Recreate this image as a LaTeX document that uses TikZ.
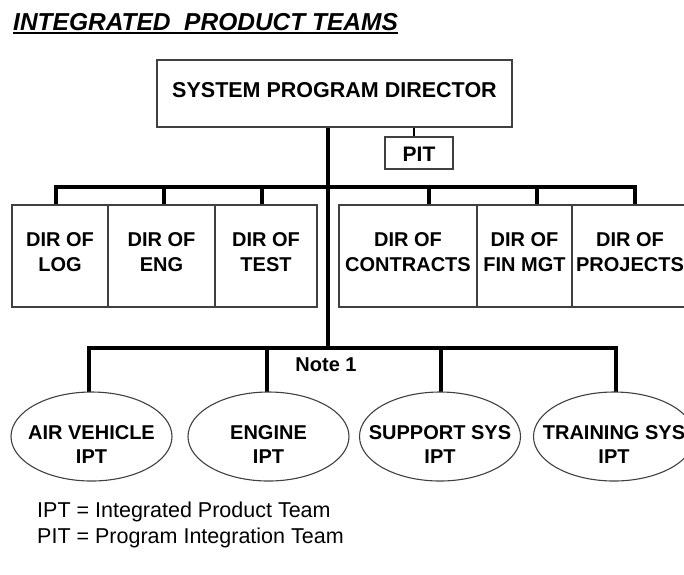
\documentclass[tikz,border=0pt]{standalone}
\usepackage{fontspec}
\setmainfont{Liberation Sans}
\usetikzlibrary{shapes.geometric}
\pgfdeclarelayer{edgelayer}
\pgfdeclarelayer{nodelayer}
\pgfsetlayers{edgelayer,nodelayer,main}
\tikzstyle{none} = [inner sep=0pt]
\tikzstyle{box} = [draw=black!75, line width=1.1pt, rectangle, inner sep=0pt, align=center, text height=40pt, text depth=10pt, font=\bfseries\fontsize{20}{25}\selectfont]
\tikzstyle{team} = [draw=black!75, line width=1.1pt, ellipse, inner xsep=-30pt, inner ysep=-25pt, minimum width=161pt, minimum height=89pt, align=center, text height=58pt, text depth=5pt, font=\bfseries\fontsize{20}{24}\selectfont]
\tikzstyle{bus} = [line width=3.4pt]

\begin{document}
\begin{tikzpicture}[x=1pt, y=-1pt]
	\useasboundingbox (0, 0) rectangle (684, 574);
	\clip (0, 0) rectangle (684, 574);
	\begin{pgfonlayer}{nodelayer}
		\node [style=none, anchor=base west, font=\bfseries\itshape\fontsize{24.5}{28}\selectfont] (0) at (13, 30) {INTEGRATED\ \ PRODUCT TEAMS};
		\node [style=box, minimum width=355pt, minimum height=67pt, text height=15pt, text depth=8pt, font=\bfseries\fontsize{21.5}{26}\selectfont] (1) at (334.5, 93.5) {SYSTEM PROGRAM DIRECTOR};
		\node [style=box, minimum width=68pt, minimum height=32pt, text height=16pt, text depth=0pt, font=\bfseries\fontsize{21}{26}\selectfont] (2) at (419, 153) {PIT};
		\node [style=box, minimum width=96pt, minimum height=102pt] (3) at (60, 256) {DIR OF\\LOG};
		\node [style=box, minimum width=107pt, minimum height=102pt] (4) at (161.5, 256) {DIR OF\\ENG};
		\node [style=box, minimum width=102pt, minimum height=102pt] (5) at (266, 256) {DIR OF\\TEST};
		\node [style=box, minimum width=138pt, minimum height=102pt] (6) at (408, 256) {DIR OF\\CONTRACTS};
		\node [style=box, minimum width=95pt, minimum height=102pt] (7) at (524.5, 256) {DIR OF\\FIN MGT};
		\node [style=box, minimum width=116pt, minimum height=102pt] (8) at (630, 256) {DIR OF\\PROJECTS};
		\node [style=team] (9) at (91.5, 436.5) {AIR VEHICLE\\IPT};
		\node [style=team] (10) at (268.5, 436.5) {ENGINE\\IPT};
		\node [style=team] (11) at (440, 436.5) {SUPPORT SYS\\IPT};
		\node [style=team] (12) at (614, 436.5) {TRAINING SYS\\IPT};
		\node [style=none, font=\bfseries\fontsize{20}{24}\selectfont] (13) at (326, 365) {Note 1};
		\node [style=none, anchor=base west, align=left, font=\fontsize{21.5}{26}\selectfont] (14) at (37, 543) {IPT = Integrated Product Team\\PIT = Program Integration Team};
		\node [style=none] (20) at (328, 127) {};
		\node [style=none] (21) at (328, 187) {};
		\node [style=none] (22) at (328, 348) {};
		\node [style=none] (23) at (56, 187) {};
		\node [style=none] (24) at (164, 187) {};
		\node [style=none] (25) at (262, 187) {};
		\node [style=none] (26) at (429, 187) {};
		\node [style=none] (27) at (537, 187) {};
		\node [style=none] (28) at (635, 187) {};
		\node [style=none] (29) at (56, 205) {};
		\node [style=none] (30) at (164, 205) {};
		\node [style=none] (31) at (262, 205) {};
		\node [style=none] (32) at (429, 205) {};
		\node [style=none] (33) at (537, 205) {};
		\node [style=none] (34) at (635, 205) {};
		\node [style=none] (35) at (89, 348) {};
		\node [style=none] (36) at (267, 348) {};
		\node [style=none] (37) at (441, 348) {};
		\node [style=none] (38) at (616, 348) {};
		\node [style=none] (39) at (89, 392) {};
		\node [style=none] (40) at (267, 392) {};
		\node [style=none] (41) at (441, 392) {};
		\node [style=none] (42) at (616, 392) {};
		\node [style=none] (43) at (414, 127) {};
		\node [style=none] (44) at (414, 137) {};
	\end{pgfonlayer}
	\begin{pgfonlayer}{edgelayer}
		\draw [line width=1.5pt] ([yshift=-3pt]0.base west) to ([yshift=-3pt]0.base east);
		\draw [style=bus] (20.center) to (22.center);
		\draw [line width=2.6pt] (43.center) to (44.center);
		\draw [style=bus] (29.center) to (23.center) to (28.center) to (34.center);
		\draw [style=bus] (24.center) to (30.center);
		\draw [style=bus] (25.center) to (31.center);
		\draw [style=bus] (26.center) to (32.center);
		\draw [style=bus] (27.center) to (33.center);
		\draw [style=bus] (39.center) to (35.center) to (38.center) to (42.center);
		\draw [style=bus] (36.center) to (40.center);
		\draw [style=bus] (37.center) to (41.center);
	\end{pgfonlayer}
\end{tikzpicture}
\end{document}
